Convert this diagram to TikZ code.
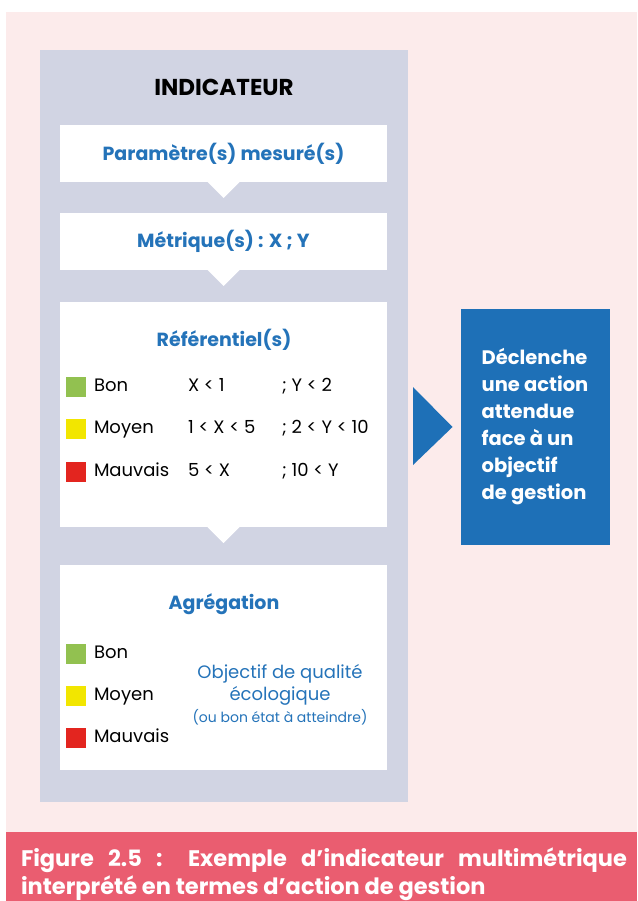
\documentclass[tikz,border=0pt]{standalone}
\usepackage{fontspec}
\setmainfont{Poppins}
\usetikzlibrary{
    calc,
    positioning
}
\definecolor{bgpink}{HTML}{FCEBEB}
\definecolor{panelgray}{HTML}{D1D4E3}
\definecolor{textblue}{HTML}{2473B9}
\definecolor{actionblue}{HTML}{1E70B7}
\definecolor{captionred}{HTML}{EA5D70}
\definecolor{bon}{HTML}{92C150}
\definecolor{moyen}{HTML}{F2E600}
\definecolor{mauvais}{HTML}{E3251F}
\tikzset{
    every picture/.style = {
        x = 1pt,
        y = -1pt
    },
    every node/.style = {
        inner sep = 0pt,
        outer sep = 0pt,
        align = center
    },
    panel/.style = {
        fill = panelgray,
        minimum width = 368pt,
        minimum height = 752pt
    },
    whitebox/.style = {
        fill = white,
        minimum width = 327pt,
        minimum height = #1
    },
    heading/.style = {
        text = textblue,
        font = \bfseries\fontsize{19}{22}\selectfont
    },
    levelbox/.style = {
        fill = #1,
        minimum size = 20pt
    },
    leveltext/.style = {
        anchor = west,
        text height = 0.85em,
        text depth = 0pt,
        font = \fontsize{18}{20}\selectfont
    }
}

\begin{document}
\begin{tikzpicture}
    \useasboundingbox (0,0) rectangle (637,901);
    \fill[bgpink] (6,12) rectangle (637,832);
    \fill[captionred] (6,832) rectangle (637,901);

    \node[panel] (panel) at (224,426) {};
    \node[font = \bfseries\fontsize{23}{26}\selectfont] (ind) at (224,87) {INDICATEUR};

    \node[whitebox = 57pt, heading] (param) at (223.5,153.5) {Paramètre(s) mesuré(s)};
    \node[whitebox = 57pt, heading] (metric) at (223.5,241.5) {Métrique(s) : X ; Y};
    \node[whitebox = 225pt] (ref) at (223.5,414.5) {};
    \node[whitebox = 205pt] (agg) at (223.5,667.5) {};

    % pointers between the boxes
    \fill[white] ($(param.south)+(-16,0)$) -- ($(param.south)+(16,0)$) -- ($(param.south)+(0,16)$) -- cycle;
    \fill[white] ($(metric.south)+(-16,0)$) -- ($(metric.south)+(16,0)$) -- ($(metric.south)+(0,16)$) -- cycle;
    \fill[white] ($(ref.south)+(-16,0)$) -- ($(ref.south)+(16,0)$) -- ($(ref.south)+(0,16)$) -- cycle;

    \node[heading] (reftitle) at (224,340) {Référentiel(s)};
    \node[levelbox = bon] (rbon) at (76,387) {};
    \node[levelbox = moyen] (rmoyen) at (76,429) {};
    \node[levelbox = mauvais] (rmauvais) at (76,472) {};
    \node[leveltext] (rbontext) at (94,387) {Bon};
    \node[leveltext] (rmoyentext) at (94,429) {Moyen};
    \node[leveltext] (rmauvaistext) at (94,472) {Mauvais};
    \node[leveltext] (xbon) at (188,387) {X < 1};
    \node[leveltext] (xmoyen) at (188,429) {1 < X < 5};
    \node[leveltext] (xmauvais) at (188,472) {5 < X};
    \node[leveltext] (ybon) at (282,387) {; Y < 2};
    \node[leveltext] (ymoyen) at (282,429) {; 2 < Y < 10};
    \node[leveltext] (ymauvais) at (282,472) {; 10 < Y};

    \node[heading] (aggtitle) at (224,604) {Agrégation};
    \node[levelbox = bon] (abon) at (76,654) {};
    \node[levelbox = moyen] (amoyen) at (76,696) {};
    \node[levelbox = mauvais] (amauvais) at (76,738) {};
    \node[leveltext] (abontext) at (94,654) {Bon};
    \node[leveltext] (amoyentext) at (94,696) {Moyen};
    \node[leveltext] (amauvaistext) at (94,738) {Mauvais};
    \node[text = textblue, font = \fontsize{18}{22}\selectfont] (objectif) at (280,684.5) {Objectif de qualité\\écologique};
    \node[text = textblue, font = \fontsize{14}{16}\selectfont] (etat) at (280,717.5) {(ou bon état à atteindre)};

    \node[fill = actionblue, minimum width = 149pt, minimum height = 236pt,
          text = white, align = left, font = \bfseries\fontsize{19.5}{27}\selectfont]
          (action) at (535,427) {Déclenche\\une action\\attendue\\face à un\\objectif\\de gestion};
    \fill[actionblue] ($(panel.east)+(5,-39)$) -- ($(panel.east)+(5,39)$) -- ($(action.west)+(-8,0)$) -- cycle;

    \node[anchor = north west, text width = 606pt, align = justify, text = white,
          font = \bfseries\fontsize{22.5}{28}\selectfont]
          (caption) at (21,848) {Figure 2.5 : Exemple d’indicateur multimétrique\linebreak interprété en termes d’action de gestion};
\end{tikzpicture}
\end{document}
